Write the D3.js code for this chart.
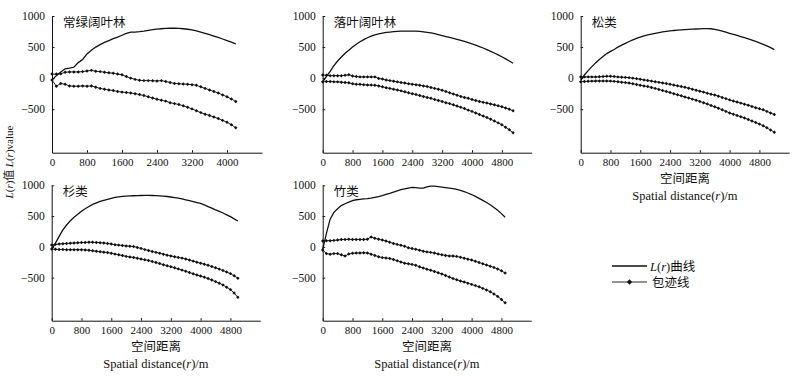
<!DOCTYPE html>
<html>
<head>
<meta charset="utf-8">
<script src="https://cdn.jsdelivr.net/npm/d3@7"></script>
<style>
  body { margin: 0; background: #fff; }
  svg { display: block; }
  .tick text { font-family: 'Liberation Serif', serif; font-size: 11.5px; fill: #111; }
  .x-axis .tick text { font-size: 11px; }
</style>
</head>
<body>
<div id="chart"></div>
<script>
// sampling step of the distances (m)
const stepR = 100;

// 常绿阔叶林, r = 0..4200
const lrEvergreen = [-30, 40, 100, 150, 160, 175, 250, 300, 390, 450, 500, 540, 575, 605, 635, 660, 690, 720, 740, 742, 748, 758, 770, 780, 788, 795, 800, 803, 803, 800, 795, 787, 775, 760, 742, 722, 700, 678, 655, 630, 605, 578, 550];
const upEvergreen = [65, 65, 70, 95, 100, 100, 100, 105, 115, 125, 110, 105, 95, 85, 80, 65, 55, 25, 0, -20, -35, -40, -40, -42, -45, -40, -55, -70, -85, -90, -95, -100, -105, -115, -140, -165, -190, -215, -240, -270, -300, -335, -375];
const lowEvergreen = [-30, -130, -85, -100, -125, -130, -130, -125, -130, -125, -145, -165, -180, -190, -200, -215, -225, -230, -240, -250, -265, -280, -300, -320, -340, -355, -370, -395, -410, -425, -445, -470, -495, -525, -555, -580, -600, -625, -650, -680, -710, -750, -800];

// 落叶阔叶林, r = 0..5100
const lrDeciduous = [-60, 30, 110, 200, 275, 340, 400, 450, 500, 545, 585, 620, 650, 675, 695, 712, 725, 735, 742, 748, 752, 755, 757, 758, 758, 756, 752, 746, 738, 728, 716, 702, 686, 670, 655, 640, 625, 608, 590, 570, 550, 530, 508, 485, 460, 432, 405, 375, 345, 310, 275, 240];
const upDeciduous = [50, 45, 40, 40, 40, 40, 45, 55, 35, 25, 20, 20, 20, 20, 20, -5, -15, -30, -40, -50, -60, -70, -80, -90, -98, -105, -115, -125, -135, -150, -165, -180, -195, -215, -235, -255, -275, -295, -310, -325, -345, -360, -375, -390, -400, -415, -430, -445, -460, -480, -500, -525];
const lowDeciduous = [-60, -55, -55, -60, -60, -65, -70, -75, -90, -100, -100, -105, -110, -112, -115, -125, -140, -155, -165, -180, -190, -205, -220, -235, -250, -265, -280, -295, -310, -325, -345, -360, -375, -395, -410, -430, -450, -470, -490, -515, -535, -560, -585, -610, -635, -660, -690, -720, -750, -790, -830, -880];

// 松类, r = 0..5200
const lrPine = [-30, 50, 120, 185, 245, 300, 350, 395, 430, 460, 500, 530, 560, 590, 615, 640, 660, 680, 695, 710, 722, 733, 743, 752, 760, 767, 772, 776, 780, 784, 788, 791, 794, 796, 797, 795, 785, 772, 757, 740, 722, 705, 688, 670, 652, 632, 612, 590, 567, 543, 518, 490, 460];
const upPine = [20, 20, 20, 20, 20, 22, 25, 30, 32, 25, 20, 15, 12, 8, 0, -8, -18, -28, -37, -48, -58, -68, -78, -88, -100, -112, -124, -135, -148, -162, -178, -195, -210, -225, -242, -258, -272, -290, -310, -330, -350, -368, -385, -402, -420, -437, -455, -475, -493, -510, -535, -560, -585];
const lowPine = [-60, -55, -50, -48, -47, -46, -46, -47, -48, -52, -58, -65, -72, -80, -90, -102, -115, -125, -135, -150, -165, -182, -198, -215, -232, -250, -268, -285, -302, -320, -338, -355, -375, -395, -415, -440, -462, -485, -510, -535, -560, -580, -600, -620, -642, -665, -690, -715, -740, -765, -800, -835, -870];

// 杉类, r = 0..5000
const lrFir = [-40, 60, 170, 275, 355, 425, 480, 530, 580, 620, 655, 690, 715, 737, 755, 772, 788, 803, 812, 820, 825, 828, 830, 832, 834, 835, 835, 834, 832, 828, 823, 818, 810, 800, 790, 778, 765, 750, 735, 720, 705, 682, 655, 628, 600, 575, 550, 520, 490, 455, 420];
const upFir = [30, 40, 45, 50, 55, 60, 62, 65, 70, 72, 75, 75, 72, 68, 62, 55, 45, 35, 28, 22, 15, 10, 5, -10, -25, -45, -60, -75, -90, -105, -120, -135, -148, -160, -172, -183, -198, -215, -232, -250, -265, -282, -300, -320, -340, -362, -385, -410, -435, -470, -510];
const lowFir = [-35, -40, -42, -44, -46, -46, -46, -46, -47, -50, -55, -63, -72, -80, -87, -93, -105, -118, -130, -142, -155, -165, -172, -185, -198, -210, -222, -238, -255, -272, -290, -306, -322, -340, -358, -378, -398, -418, -438, -458, -475, -495, -515, -540, -565, -590, -620, -655, -695, -750, -820];

// 竹类, r = 0..4900
const lrBamboo = [-40, 220, 450, 560, 620, 670, 700, 725, 750, 765, 772, 778, 782, 790, 802, 815, 832, 852, 870, 890, 910, 928, 942, 955, 965, 962, 955, 955, 975, 988, 985, 978, 970, 962, 955, 945, 935, 918, 898, 875, 850, 820, 788, 755, 720, 683, 640, 595, 540, 480];
const upBamboo = [95, 100, 100, 105, 110, 118, 120, 122, 120, 120, 118, 120, 125, 160, 140, 125, 110, 95, 75, 55, 40, 25, 10, -15, -28, -40, -55, -70, -82, -90, -100, -115, -128, -140, -148, -150, -155, -170, -185, -200, -215, -235, -255, -275, -295, -315, -335, -360, -390, -425];
const lowBamboo = [-50, -110, -120, -110, -110, -130, -150, -115, -105, -100, -100, -95, -100, -120, -140, -160, -175, -180, -190, -205, -225, -245, -265, -275, -285, -300, -325, -345, -365, -380, -400, -420, -440, -465, -490, -515, -535, -555, -570, -590, -610, -630, -650, -675, -700, -730, -765, -805, -855, -910];

const yTicks = [-500, 0, 500, 1000];
const xTicksShort = [0, 800, 1600, 2400, 3200, 4000];
const xTicksLong = [0, 800, 1600, 2400, 3200, 4000, 4800];

const panels = [
  {title: '常绿阔叶林', lr: lrEvergreen, up: upEvergreen, low: lowEvergreen, xMax: 4800, ticks: xTicksShort, left: 52, top: 16, bottom: 152.7, width: 210, xTitle: false},
  {title: '落叶阔叶林', lr: lrDeciduous, up: upDeciduous, low: lowDeciduous, xMax: 5600, ticks: xTicksLong, left: 322.7, top: 16, bottom: 152.7, width: 209, xTitle: false},
  {title: '松类', lr: lrPine, up: upPine, low: lowPine, xMax: 5600, ticks: xTicksLong, left: 580.7, top: 16, bottom: 152.7, width: 208.5, xTitle: true},
  {title: '杉类', lr: lrFir, up: upFir, low: lowFir, xMax: 5600, ticks: xTicksLong, left: 51.7, top: 185.3, bottom: 320.7, width: 208.5, xTitle: true},
  {title: '竹类', lr: lrBamboo, up: upBamboo, low: lowBamboo, xMax: 5600, ticks: xTicksLong, left: 322.7, top: 185.3, bottom: 320.7, width: 208.5, xTitle: true}
];

const width = 800, height = 376;
const cjk = "'Noto Sans CJK SC', sans-serif";
const serif = "'Liberation Serif', 'Times New Roman', serif";

const svg = d3.select('#chart').append('svg')
  .attr('width', width)
  .attr('height', height);

// small square turned 45° = diamond marker
const marker = d3.symbol().type(d3.symbolSquare).size(6);

panels.forEach(p => drawPanel(p));

function drawPanel (p) {
  const xScale = d3.scaleLinear().domain([0, p.xMax]).range([p.left, p.left + p.width]);
  const yScale = d3.scaleLinear().domain([-1200, 1000]).range([p.bottom, p.top]);
  const g = svg.append('g');

  // axes
  g.append('g')
    .attr('class', 'x-axis')
    .attr('transform', `translate(0,${p.bottom})`)
    .call(d3.axisBottom(xScale).tickValues(p.ticks).tickFormat(d3.format('d'))
      .tickSizeInner(-2.5).tickSizeOuter(0).tickPadding(6));
  g.append('g')
    .attr('transform', `translate(${p.left},0)`)
    .call(d3.axisLeft(yScale).tickValues(yTicks).tickFormat(d3.format('d'))
      .tickSizeInner(-2.5).tickSizeOuter(0).tickPadding(7));
  g.selectAll('.domain, .tick line').attr('stroke', '#111');

  const r = i => i * stepR;
  const line = d3.line().x((d, i) => xScale(r(i))).y(d => yScale(d));

  // envelopes
  [p.up, p.low].forEach(env => {
    g.append('path')
      .attr('d', line(env))
      .attr('fill', 'none')
      .attr('stroke', '#111')
      .attr('stroke-width', 0.9);
    g.append('g').selectAll('path')
      .data(env)
      .join('path')
      .attr('d', marker)
      .attr('transform', (d, i) => `translate(${xScale(r(i))},${yScale(d)}) rotate(45)`)
      .attr('fill', '#111');
  });

  // L(r) curve
  g.append('path')
    .attr('d', line(p.lr))
    .attr('fill', 'none')
    .attr('stroke', '#111')
    .attr('stroke-width', 1.3);

  // panel title
  g.append('text')
    .attr('x', p.left + 11)
    .attr('y', p.top + 10.5)
    .attr('font-family', cjk)
    .attr('font-size', 12.5)
    .attr('fill', '#111')
    .text(p.title);

  if (p.xTitle) {
    const cx = p.left + p.width / 2;
    g.append('text')
      .attr('x', cx)
      .attr('y', p.bottom + 30)
      .attr('text-anchor', 'middle')
      .attr('font-family', cjk)
      .attr('font-size', 12.5)
      .attr('fill', '#111')
      .text('空间距离');
    const t = g.append('text')
      .attr('x', cx)
      .attr('y', p.bottom + 47)
      .attr('text-anchor', 'middle')
      .attr('font-family', serif)
      .attr('font-size', 12.5)
      .attr('fill', '#111');
    t.append('tspan').text('Spatial distance(');
    t.append('tspan').attr('font-style', 'italic').text('r');
    t.append('tspan').text(')/m');
  }
}

// y-axis title
const yTitle = svg.append('text')
  .attr('transform', 'translate(13,162) rotate(-90)')
  .attr('text-anchor', 'middle')
  .attr('font-family', serif)
  .attr('font-size', 11)
  .attr('fill', '#111');
yTitle.append('tspan').attr('font-style', 'italic').text('L');
yTitle.append('tspan').text('(');
yTitle.append('tspan').attr('font-style', 'italic').text('r');
yTitle.append('tspan').text(')');
yTitle.append('tspan').attr('font-family', cjk).text('值 ');
yTitle.append('tspan').attr('font-style', 'italic').text('L');
yTitle.append('tspan').text('(');
yTitle.append('tspan').attr('font-style', 'italic').text('r');
yTitle.append('tspan').text(')value');

// legend
const legend = svg.append('g');
legend.append('line')
  .attr('x1', 612).attr('x2', 647).attr('y1', 266).attr('y2', 266)
  .attr('stroke', '#111').attr('stroke-width', 1.3);
const l1 = legend.append('text')
  .attr('x', 650).attr('y', 270.5)
  .attr('font-family', serif).attr('font-size', 12.5).attr('fill', '#111');
l1.append('tspan').attr('font-style', 'italic').text('L');
l1.append('tspan').text('(');
l1.append('tspan').attr('font-style', 'italic').text('r');
l1.append('tspan').text(')');
l1.append('tspan').attr('font-family', cjk).text('曲线');

legend.append('line')
  .attr('x1', 612).attr('x2', 647).attr('y1', 282).attr('y2', 282)
  .attr('stroke', '#111').attr('stroke-width', 0.9);
legend.append('path')
  .attr('d', d3.symbol().type(d3.symbolSquare).size(14))
  .attr('transform', 'translate(629.5,282) rotate(45)')
  .attr('fill', '#111');
legend.append('text')
  .attr('x', 652).attr('y', 286.5)
  .attr('font-family', cjk).attr('font-size', 12.5).attr('fill', '#111')
  .text('包迹线');
</script>
</body>
</html>
